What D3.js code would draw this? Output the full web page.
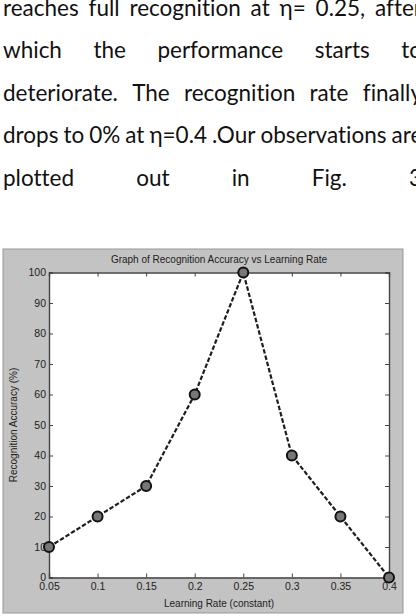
<!DOCTYPE html>
<html>
<head>
<meta charset="utf-8">
<script src="https://cdn.jsdelivr.net/npm/d3@7"></script>
<style>
  body { margin: 0; background: #fff; overflow: hidden; }
  svg { display: block; }
</style>
</head>
<body>
<div id="chart"></div>
<script>
// paragraph lines above the figure (justified, overflowing on the right)
const paragraph = [
  "reaches full recognition at η= 0.25, after",
  "which the performance starts to",
  "deteriorate. The recognition rate finally",
  "drops to 0% at η=0.4 .Our observations are",
  "plotted out in Fig. 3"
];

const learningRate = [0.05, 0.1, 0.15, 0.2, 0.25, 0.3, 0.35, 0.4];
const accuracy = [10, 20, 30, 60, 100, 40, 20, 0];
const xTicks = [0.05, 0.1, 0.15, 0.2, 0.25, 0.3, 0.35, 0.4];
const yTicks = [0, 10, 20, 30, 40, 50, 60, 70, 80, 90, 100];

const chartTitle = "Graph of Recognition Accuracy vs Learning Rate";
const xTitle = "Learning Rate (constant)";
const yTitle = "Recognition Accuracy (%)";

const W = 416, H = 616;
const svg = d3.select("#chart").append("svg")
  .attr("width", W).attr("height", H);

// ---- paragraph text ----
const textG = svg.append("g")
  .style("font-family", "Lato, 'Open Sans', sans-serif")
  .style("font-size", "22.5px")
  .style("font-variant-ligatures", "none")
  .style("fill", "#111");

const lineWidth = 422;
paragraph.forEach((line, i) => {
  const words = line.split(" ");
  const y = 15.5 + i * 42.6;
  const nodes = words.map(w => textG.append("text").attr("y", y).text(w));
  const widths = nodes.map(n => n.node().getComputedTextLength());
  const gap = Math.max(5, (lineWidth - 3 - d3.sum(widths)) / (words.length - 1));
  let x = 3;
  nodes.forEach((n, j) => {
    n.attr("x", x);
    x += widths[j] + gap;
  });
});

// ---- figure ----
const fig = { x: 3, y: 249, w: 400, h: 364 };
const margin = { left: 49, right: 389, top: 272.5, bottom: 577.5 };

svg.append("rect")
  .attr("x", fig.x).attr("y", fig.y)
  .attr("width", fig.w).attr("height", fig.h)
  .attr("fill", "#c3c3c3")
  .attr("stroke", "#979797");

svg.append("rect")
  .attr("x", margin.left).attr("y", margin.top)
  .attr("width", margin.right - margin.left)
  .attr("height", margin.bottom - margin.top)
  .attr("fill", "#fff");

const x = d3.scaleLinear().domain([0.05, 0.4]).range([margin.left, margin.right]);
const y = d3.scaleLinear().domain([0, 100]).range([margin.bottom, margin.top]);

const axisFont = g => g
  .style("font-family", "'Liberation Sans', Arial, sans-serif")
  .style("font-size", "10.5px");

const tidy = g => {
  g.select(".domain").attr("stroke", "#444").attr("stroke-width", 1.4);
  g.selectAll(".tick line").attr("stroke", "#444");
  g.selectAll(".tick text").attr("fill", "#222");
};

svg.append("g")
  .attr("transform", `translate(0,${margin.bottom})`)
  .call(d3.axisBottom(x).tickValues(xTicks).tickSize(-4).tickPadding(5)
    .tickFormat(d => String(+d.toFixed(2))))
  .call(axisFont).call(tidy);

svg.append("g")
  .attr("transform", `translate(0,${margin.top})`)
  .call(d3.axisTop(x).tickValues(xTicks).tickSize(-4).tickFormat(""))
  .call(tidy);

svg.append("g")
  .attr("transform", `translate(${margin.left},0)`)
  .call(d3.axisLeft(y).tickValues(yTicks).tickSize(-4).tickPadding(3))
  .call(axisFont).call(tidy);

svg.append("g")
  .attr("transform", `translate(${margin.right},0)`)
  .call(d3.axisRight(y).tickValues(yTicks).tickSize(-4).tickFormat(""))
  .call(tidy);

// titles
svg.append("text")
  .attr("x", (margin.left + margin.right) / 2).attr("y", 263)
  .attr("text-anchor", "middle")
  .call(axisFont).style("font-size", "10px").style("fill", "#222")
  .text(chartTitle);

svg.append("text")
  .attr("x", (margin.left + margin.right) / 2).attr("y", 607)
  .attr("text-anchor", "middle")
  .call(axisFont).style("font-size", "10px").style("fill", "#222")
  .text(xTitle);

svg.append("text")
  .attr("transform", `translate(17,${(margin.top + margin.bottom) / 2}) rotate(-90)`)
  .attr("text-anchor", "middle")
  .call(axisFont).style("font-size", "10px").style("fill", "#222")
  .text(yTitle);

// series
const data = learningRate.map((d, i) => ({ x: d, y: accuracy[i] }));

svg.append("path")
  .datum(data)
  .attr("fill", "none")
  .attr("stroke", "#1e1e1e")
  .attr("stroke-width", 2.2)
  .attr("stroke-dasharray", "4.5,2")
  .attr("d", d3.line().x(d => x(d.x)).y(d => y(d.y)));

svg.selectAll(".pt")
  .data(data)
  .enter().append("circle")
  .attr("class", "pt")
  .attr("cx", d => x(d.x))
  .attr("cy", d => y(d.y))
  .attr("r", 5)
  .attr("fill", "#777")
  .attr("stroke", "#111")
  .attr("stroke-width", 2);
</script>
</body>
</html>
